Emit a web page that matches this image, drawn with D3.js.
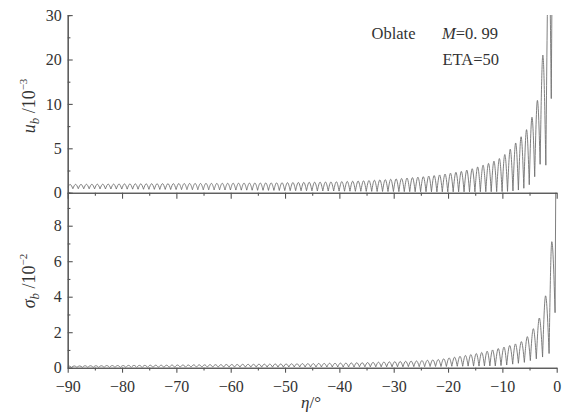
<!DOCTYPE html>
<html>
<head>
<meta charset="utf-8">
<script src="https://cdn.jsdelivr.net/npm/d3@7"></script>
<style>
  html, body { margin: 0; padding: 0; background: #fff; }
  svg { display: block; }
  text { font-family: "Liberation Serif", "Times New Roman", serif; fill: #333; }
</style>
</head>
<body>
<svg id="chart" width="563" height="416"></svg>
<script>
// u_b (×10^-3): local minima (low) and maxima (high) of the oscillating curve
const uLowEta = [-90,
  -89.05,-88.05,-87.05,-86.05,-85.05,-84.05,-83.05,-82.05,-81.05,-80.05,
  -79.05,-78.05,-77.05,-76.05,-75.05,-74.05,-73.05,-72.05,-71.05,-70.05,
  -69.05,-68.05,-67.05,-66.05,-65.05,-64.05,-63.05,-62.05,-61.05,-60.05,
  -59.05,-58.05,-57.05,-56.05,-55.05,-54.05,-53.05,-52.05,-51.05,-50.05,
  -49.05,-48.05,-47.05,-46.05,-45.05,-44.05,-43.05,-42.05,-41.05,-40.05,
  -39.05,-38.05,-37.05,-36.05,-35.05,-34.05,-33.05,-32.05,-31.05,-30.05,
  -29.05,-28.05,-27.05,-26.05,-25.05,-24.05,-23.05,-22.05,-21.05,-20.05,
  -19.05,-18.05,-17.05,-16.05,-15.05,-14.05,-13.05,-12.05,-11.05,-10.05,
  -9.05,-8.05,-7.05,-6.05,-5.05,-4.05,-3.05,
  -2.0,-1.0,0];
const uLowVal = [0.6,
  0.45,0.45,0.44,0.44,0.43,0.43,0.42,0.42,0.41,0.41,
  0.40,0.40,0.39,0.39,0.38,0.38,0.37,0.37,0.36,0.36,
  0.35,0.35,0.34,0.34,0.33,0.33,0.32,0.32,0.31,0.31,
  0.30,0.29,0.29,0.28,0.27,0.27,0.26,0.26,0.25,0.24,
  0.23,0.23,0.22,0.22,0.21,0.20,0.20,0.19,0.19,0.18,
  0.17,0.17,0.16,0.16,0.15,0.15,0.14,0.14,0.13,0.13,
  0.12,0.12,0.12,0.11,0.11,0.11,0.10,0.10,0.10,0.10,
  0.10,0.10,0.10,0.10,0.10,0.11,0.11,0.11,0.12,0.12,
  0.15,0.2,0.3,0.5,0.9,1.8,3.2,
  3.1,11.2,40];
const uHighEta = [
  -89.55,-88.55,-87.55,-86.55,-85.55,-84.55,-83.55,-82.55,-81.55,-80.55,
  -79.55,-78.55,-77.55,-76.55,-75.55,-74.55,-73.55,-72.55,-71.55,-70.55,
  -69.55,-68.55,-67.55,-66.55,-65.55,-64.55,-63.55,-62.55,-61.55,-60.55,
  -59.55,-58.55,-57.55,-56.55,-55.55,-54.55,-53.55,-52.55,-51.55,-50.55,
  -49.55,-48.55,-47.55,-46.55,-45.55,-44.55,-43.55,-42.55,-41.55,-40.55,
  -39.55,-38.55,-37.55,-36.55,-35.55,-34.55,-33.55,-32.55,-31.55,-30.55,
  -29.55,-28.55,-27.55,-26.55,-25.55,-24.55,-23.55,-22.55,-21.55,-20.55,
  -19.55,-18.55,-17.55,-16.55,-15.55,-14.55,-13.55,-12.55,-11.55,-10.55,
  -9.55,-8.55,-7.55,-6.55,-5.55,-4.55,-3.55,
  -2.55,-1.45,-0.6];
const uHighVal = [
  0.93,0.94,0.94,0.95,0.95,0.96,0.96,0.97,0.97,0.98,
  0.99,0.99,1.00,1.00,1.00,1.01,1.01,1.02,1.02,1.02,
  1.03,1.03,1.04,1.04,1.04,1.05,1.05,1.05,1.06,1.06,
  1.07,1.07,1.08,1.08,1.09,1.09,1.10,1.10,1.11,1.12,
  1.13,1.14,1.15,1.16,1.17,1.18,1.19,1.20,1.21,1.23,
  1.25,1.27,1.29,1.31,1.34,1.37,1.40,1.44,1.47,1.51,
  1.55,1.60,1.65,1.70,1.75,1.80,1.87,1.93,2.00,2.10,
  2.20,2.30,2.40,2.55,2.70,2.90,3.10,3.30,3.55,3.85,
  4.3,4.9,5.6,6.3,7.1,8.5,10.8,
  21.0,45,60];

// σ_b (×10^-2): local minima (low) and maxima (high)
const sLowEta = [-90,
  -89.3,-88.3,-87.3,-86.3,-85.3,-84.3,-83.3,-82.3,-81.3,-80.3,
  -79.3,-78.3,-77.3,-76.3,-75.3,-74.3,-73.3,-72.3,-71.3,-70.3,
  -69.3,-68.3,-67.3,-66.3,-65.3,-64.3,-63.3,-62.3,-61.3,-60.3,
  -59.3,-58.3,-57.3,-56.3,-55.3,-54.3,-53.3,-52.3,-51.3,-50.3,
  -49.3,-48.3,-47.3,-46.3,-45.3,-44.3,-43.3,-42.3,-41.3,-40.3,
  -39.3,-38.3,-37.3,-36.3,-35.3,-34.3,-33.3,-32.3,-31.3,-30.3,
  -29.3,-28.3,-27.3,-26.3,-25.3,-24.3,-23.3,-22.3,-21.3,-20.3,
  -19.3,-18.3,-17.3,-16.3,-15.3,-14.3,-13.3,-12.3,
  -11.3,-10.25,-9.2,-8.1,-7.05,-5.95,-4.85,-3.75,-2.6,-1.4,-0.3];
const sLowVal = [0.05,
  0.02,0.02,0.02,0.02,0.02,0.02,0.02,0.02,0.02,0.02,
  0.02,0.02,0.02,0.02,0.02,0.02,0.02,0.02,0.02,0.02,
  0.03,0.03,0.03,0.03,0.03,0.03,0.03,0.03,0.03,0.03,
  0.03,0.03,0.03,0.03,0.03,0.03,0.03,0.03,0.03,0.03,
  0.04,0.04,0.04,0.04,0.04,0.04,0.04,0.04,0.04,0.04,
  0.04,0.04,0.04,0.05,0.05,0.05,0.05,0.05,0.05,0.05,
  0.05,0.05,0.06,0.06,0.06,0.06,0.07,0.07,0.07,0.07,
  0.08,0.08,0.08,0.09,0.09,0.09,0.10,0.10,
  0.10,0.12,0.15,0.2,0.25,0.3,0.4,0.5,0.6,0.8,3.1];
const sHighEta = [
  -89.8,-88.8,-87.8,-86.8,-85.8,-84.8,-83.8,-82.8,-81.8,-80.8,
  -79.8,-78.8,-77.8,-76.8,-75.8,-74.8,-73.8,-72.8,-71.8,-70.8,
  -69.8,-68.8,-67.8,-66.8,-65.8,-64.8,-63.8,-62.8,-61.8,-60.8,
  -59.8,-58.8,-57.8,-56.8,-55.8,-54.8,-53.8,-52.8,-51.8,-50.8,
  -49.8,-48.8,-47.8,-46.8,-45.8,-44.8,-43.8,-42.8,-41.8,-40.8,
  -39.8,-38.8,-37.8,-36.8,-35.8,-34.8,-33.8,-32.8,-31.8,-30.8,
  -29.8,-28.8,-27.8,-26.8,-25.8,-24.8,-23.8,-22.8,-21.8,-20.8,
  -19.8,-18.8,-17.8,-16.8,-15.8,-14.8,-13.8,-12.8,-11.8,
  -10.75,-9.7,-8.65,-7.6,-6.5,-5.4,-4.3,-3.2,-2.05,-0.9,0];
const sHighVal = [
  0.10,0.10,0.10,0.11,0.11,0.11,0.11,0.12,0.12,0.12,
  0.12,0.13,0.13,0.13,0.13,0.14,0.14,0.14,0.14,0.15,
  0.15,0.15,0.15,0.16,0.16,0.16,0.17,0.17,0.17,0.18,
  0.18,0.18,0.19,0.19,0.19,0.20,0.20,0.20,0.21,0.21,
  0.21,0.22,0.22,0.23,0.23,0.23,0.24,0.24,0.25,0.25,
  0.26,0.26,0.27,0.28,0.28,0.29,0.30,0.31,0.32,0.33,
  0.34,0.35,0.36,0.37,0.38,0.40,0.42,0.44,0.46,0.50,
  0.55,0.59,0.64,0.69,0.74,0.80,0.86,0.93,1.00,
  1.08,1.16,1.25,1.34,1.47,1.75,2.2,2.8,4.05,7.1,20];

// Axis ticks
const xMajor = [-90,-80,-70,-60,-50,-40,-30,-20,-10,0];
const xMinor = [-85,-75,-65,-55,-45,-35,-25,-15,-5];
const uMajor = [0,5,10,20,30];
const uMinor = [2.5,7.5,15,25];
const sMajor = [0,2,4,6,8];
const sMinor = [1,3,5,7,9];

const svg = d3.select("#chart");
const left = 67.7, right = 556.7;
const topU = 15.1, mid = 192.7, bottom = 367.7;

const x = d3.scaleLinear().domain([-90, 0]).range([left, right]);
// upper panel uses a piecewise axis: 0-5-10-20-30 evenly spaced
const yU = d3.scaleLinear().domain([0, 5, 10, 20, 30])
  .range([mid, mid - (mid - topU) / 4, mid - (mid - topU) / 2, mid - 3 * (mid - topU) / 4, topU]);
const yS = d3.scaleLinear().domain([0, 9.86]).range([bottom, mid]);

const defs = svg.append("defs");
defs.append("clipPath").attr("id", "clipU").append("rect")
  .attr("x", left).attr("y", topU).attr("width", right - left + 1).attr("height", mid - topU);
defs.append("clipPath").attr("id", "clipS").append("rect")
  .attr("x", left).attr("y", mid).attr("width", right - left + 1).attr("height", bottom - mid);

// split the curve into arches (min -> max -> min): cusp at minima, rounded maxima
function arches(lowEta, lowVal, highEta, highVal) {
  return highEta.map((e, i) => {
    const pts = [[lowEta[i], lowVal[i]], [e, highVal[i]]];
    if (i + 1 < lowEta.length) pts.push([lowEta[i + 1], lowVal[i + 1]]);
    return pts;
  });
}

function drawSeries(yScale, clipId, segs) {
  const line = d3.line().x(d => x(d[0])).y(d => yScale(d[1])).curve(d3.curveMonotoneX);
  svg.append("g").attr("clip-path", `url(#${clipId})`)
    .selectAll("path").data(segs).join("path")
    .attr("d", line)
    .attr("fill", "none")
    .attr("stroke", "#707070")
    .attr("stroke-width", 0.9)
    .attr("stroke-linejoin", "round");
}

drawSeries(yU, "clipU", arches(uLowEta, uLowVal, uHighEta, uHighVal));
drawSeries(yS, "clipS", arches(sLowEta, sLowVal, sHighEta, sHighVal));

const axisColor = "#555";
const fmt = d => d < 0 ? "\u2212" + Math.abs(d) : String(d);

function styleAxis(g) {
  g.select(".domain").attr("stroke", axisColor).attr("stroke-width", 1.1);
  g.selectAll(".tick line").attr("stroke", axisColor).attr("stroke-width", 1.1);
  g.selectAll("text").attr("fill", "#3a3a3a").style("font-size", "16px")
    .style("font-family", '"Liberation Serif", "Times New Roman", serif');
}

// upper y axis
svg.append("g").attr("transform", `translate(${left},0)`)
  .call(d3.axisLeft(yU).tickValues(uMinor).tickSize(-2.7).tickFormat(""))
  .call(styleAxis);
svg.append("g").attr("transform", `translate(${left},0)`)
  .call(d3.axisLeft(yU).tickValues(uMajor).tickSizeInner(-5).tickSizeOuter(0).tickPadding(6).tickFormat(d3.format("d")))
  .call(styleAxis);

// lower y axis
svg.append("g").attr("transform", `translate(${left},0)`)
  .call(d3.axisLeft(yS).tickValues(sMinor).tickSize(-2.7).tickFormat(""))
  .call(styleAxis);
svg.append("g").attr("transform", `translate(${left},0)`)
  .call(d3.axisLeft(yS).tickValues(sMajor).tickSizeInner(-5).tickSizeOuter(0).tickPadding(6).tickFormat(d3.format("d")))
  .call(styleAxis);

// shared middle axis (no labels)
svg.append("g").attr("transform", `translate(0,${mid})`)
  .call(d3.axisBottom(x).tickValues(xMinor).tickSize(3).tickSizeOuter(0).tickFormat(""))
  .call(styleAxis);
svg.append("g").attr("transform", `translate(0,${mid})`)
  .call(d3.axisBottom(x).tickValues(xMajor).tickSize(6).tickSizeOuter(0).tickFormat(""))
  .call(styleAxis);

// bottom x axis
svg.append("g").attr("transform", `translate(0,${bottom})`)
  .call(d3.axisBottom(x).tickValues(xMinor).tickSize(2.7).tickSizeOuter(0).tickFormat(""))
  .call(styleAxis);
svg.append("g").attr("transform", `translate(0,${bottom})`)
  .call(d3.axisBottom(x).tickValues(xMajor).tickSizeInner(5).tickSizeOuter(0).tickPadding(8).tickFormat(fmt))
  .call(styleAxis);

// axis titles
const tU = svg.append("text").attr("transform", "translate(35,106) rotate(-90)")
  .attr("text-anchor", "middle").style("font-size", "18px");
tU.append("tspan").attr("font-style", "italic").text("u");
tU.append("tspan").attr("font-style", "italic").style("font-size", "13px").attr("dy", 4).text("b");
tU.append("tspan").attr("dy", -4).text(" /10");
tU.append("tspan").style("font-size", "11px").attr("dy", -8).text("\u22123");

const tS = svg.append("text").attr("transform", "translate(35,281) rotate(-90)")
  .attr("text-anchor", "middle").style("font-size", "18px");
tS.append("tspan").attr("font-style", "italic").text("σ");
tS.append("tspan").attr("font-style", "italic").style("font-size", "13px").attr("dy", 4).text("b");
tS.append("tspan").attr("dy", -4).text(" /10");
tS.append("tspan").style("font-size", "11px").attr("dy", -8).text("\u22122");

const tX = svg.append("text").attr("x", 311).attr("y", 408)
  .attr("text-anchor", "middle").style("font-size", "17px");
tX.append("tspan").attr("font-style", "italic").text("η");
tX.append("tspan").text("/°");

// annotations
svg.append("text").attr("x", 371.5).attr("y", 39).style("font-size", "16.5px").text("Oblate");
const tM = svg.append("text").attr("x", 442).attr("y", 39).style("font-size", "16.5px");
tM.append("tspan").attr("font-style", "italic").text("M");
tM.append("tspan").text("=0. 99");
svg.append("text").attr("x", 442.5).attr("y", 65).style("font-size", "16.5px").text("ETA=50");
</script>
</body>
</html>
